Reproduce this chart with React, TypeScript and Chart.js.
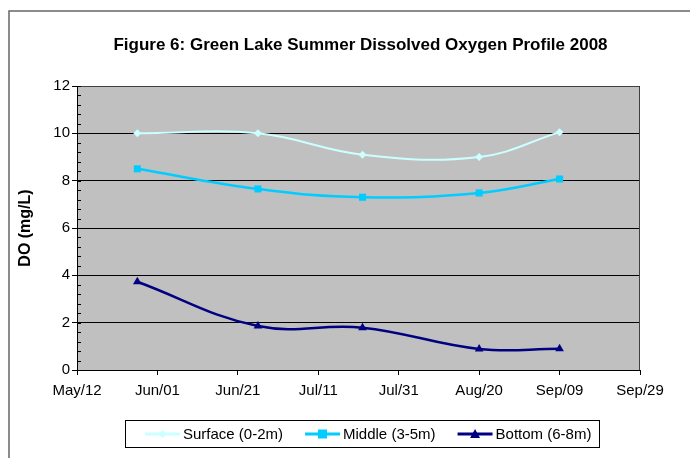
import React, { useEffect, useRef } from "react";
import { Chart, registerables } from "chart.js";

Chart.register(...registerables);

const chartTitle = "Figure 6: Green Lake Summer Dissolved Oxygen Profile 2008";
const yAxisTitle = "DO (mg/L)";
const startDate = "2008-05-12";
const sampleDates = ["2008-05-27", "2008-06-26", "2008-07-22", "2008-08-20", "2008-09-09"];
const xTickLabels = ["May/12", "Jun/01", "Jun/21", "Jul/11", "Jul/31", "Aug/20", "Sep/09", "Sep/29"];
const seriesNames = ["Surface (0-2m)", "Middle (3-5m)", "Bottom (6-8m)"];
const surfaceDO = [10.0, 10.0, 9.1, 9.0, 10.05];
const middleDO = [8.5, 7.65, 7.3, 7.48, 8.07];
const bottomDO = [3.73, 1.86, 1.79, 0.89, 0.9];

const FONT = "'Liberation Sans', Arial, sans-serif";
const DAY = 86400000;
const dayOffset = (d: string) => Math.round((Date.parse(d) - Date.parse(startDate)) / DAY);

const colors = ["#CCFFFF", "#00CCFF", "#000080"];
const pointStyles = ["rectRot", "rect", "triangle"];
const pointRadii = [4, 5, 5];
const lineWidths = [2, 2.5, 2.5];

const decorPlugin = {
  id: "decor",
  beforeDraw(chart: any) {
    const { ctx, chartArea: a } = chart;
    ctx.save();
    ctx.fillStyle = "#ffffff";
    ctx.fillRect(0, 0, chart.width, chart.height);
    ctx.strokeStyle = "#666666";
    ctx.lineWidth = 1.5;
    ctx.strokeRect(9, 11, chart.width + 20, chart.height + 20);
    ctx.fillStyle = "#C0C0C0";
    ctx.fillRect(a.left, a.top, a.right - a.left, a.bottom - a.top);
    ctx.restore();
  },
  afterDatasetsDraw(chart: any) {
    const { ctx, chartArea: a } = chart;
    const y = chart.scales.y;
    ctx.save();
    ctx.strokeStyle = "#404040";
    ctx.lineWidth = 1;
    ctx.beginPath();
    ctx.moveTo(a.left, a.top + 0.5);
    ctx.lineTo(a.right - 0.5, a.top + 0.5);
    ctx.lineTo(a.right - 0.5, a.bottom);
    ctx.stroke();
    ctx.strokeStyle = "#000000";
    ctx.beginPath();
    for (let v = 0; v <= 12.001; v += 0.4) {
      const py = Math.round(y.getPixelForValue(v)) + 0.5;
      ctx.moveTo(a.left, py);
      ctx.lineTo(a.left + 4, py);
    }
    ctx.stroke();
    ctx.restore();
  },
  afterDraw(chart: any) {
    const { ctx, chartArea: a } = chart;
    ctx.save();
    ctx.fillStyle = "#000000";
    ctx.font = `bold 17px ${FONT}`;
    ctx.textAlign = "center";
    ctx.textBaseline = "middle";
    ctx.fillText(chartTitle, (a.left + a.right) / 2 + 2, 45);
    ctx.font = `15px ${FONT}`;
    ctx.textAlign = "left";
    const lineLen = 35;
    const gapText = 3;
    const gapItem = 22;
    const widths = seriesNames.map((n) => ctx.measureText(n).width);
    const total = widths.reduce((s, w) => s + lineLen + gapText + w, 0) + gapItem * (seriesNames.length - 1);
    const boxW = Math.round(total + 28);
    const boxL = Math.round((a.left + a.right) / 2 + 3 - boxW / 2);
    let x = boxL + 20;
    const ly = 434;
    ctx.strokeStyle = "#000000";
    ctx.lineWidth = 1;
    ctx.strokeRect(boxL + 0.5, 420.5, boxW, 27);
    chart.data.datasets.forEach((ds: any, i: number) => {
      ctx.strokeStyle = colors[i];
      ctx.lineWidth = 3;
      ctx.beginPath();
      ctx.moveTo(x, ly);
      ctx.lineTo(x + lineLen, ly);
      ctx.stroke();
      ctx.fillStyle = colors[i];
      const mx = x + lineLen / 2;
      const r = pointRadii[i];
      ctx.beginPath();
      if (pointStyles[i] === "rectRot") {
        ctx.moveTo(mx, ly - r);
        ctx.lineTo(mx + r, ly);
        ctx.lineTo(mx, ly + r);
        ctx.lineTo(mx - r, ly);
      } else if (pointStyles[i] === "rect") {
        ctx.rect(mx - r + 0.5, ly - r + 0.5, 2 * r - 1, 2 * r - 1);
      } else {
        ctx.moveTo(mx, ly - r);
        ctx.lineTo(mx + r, ly + r - 1);
        ctx.lineTo(mx - r, ly + r - 1);
      }
      ctx.closePath();
      ctx.fill();
      ctx.fillStyle = "#000000";
      ctx.textBaseline = "middle";
      ctx.fillText(seriesNames[i], x + lineLen + gapText, ly + 1);
      x += lineLen + gapText + widths[i] + gapItem;
    });
    ctx.restore();
  },
};

export default function App() {
  const ref = useRef<HTMLCanvasElement | null>(null);
  useEffect(() => {
    if (!ref.current) return;
    const xs = sampleDates.map(dayOffset);
    const series = [surfaceDO, middleDO, bottomDO];
    const chart = new Chart(ref.current, {
      type: "line",
      data: {
        datasets: series.map((vals, i) => ({
          label: seriesNames[i],
          data: vals.map((v, j) => ({ x: xs[j], y: v })),
          borderColor: colors[i],
          backgroundColor: colors[i],
          borderWidth: lineWidths[i],
          tension: 0.4,
          pointStyle: pointStyles[i] as any,
          pointRadius: pointRadii[i],
          pointBorderWidth: 0,
          fill: false,
        })),
      },
      options: {
        responsive: false,
        animation: false,
        events: [],
        layout: { padding: { left: 16, top: 86, right: 50, bottom: 0 } },
        plugins: {
          legend: { display: false },
          title: { display: false },
          tooltip: { enabled: false },
        },
        scales: {
          x: {
            type: "linear",
            min: 0,
            max: 140,
            afterBuildTicks: (s: any) => {
              s.ticks = xTickLabels.map((_, i) => ({ value: i * 20 }));
            },
            afterFit: (s: any) => {
              s.height = 88;
            },
            ticks: {
              callback: (v: any) => xTickLabels[Math.round(Number(v) / 20)] ?? "",
              color: "#000000",
              font: { family: FONT, size: 15 },
              padding: 7,
              maxRotation: 0,
              autoSkip: false,
            },
            grid: {
              drawOnChartArea: false,
              drawTicks: true,
              tickLength: 5,
              color: "#000000",
            },
            border: { color: "#000000", width: 1 },
          },
          y: {
            min: 0,
            max: 12,
            afterBuildTicks: (s: any) => {
              s.ticks = [0, 2, 4, 6, 8, 10, 12].map((v) => ({ value: v }));
            },
            afterFit: (s: any) => {
              s.width = 77 - 16;
            },
            ticks: {
              color: "#000000",
              font: { family: FONT, size: 15 },
              padding: 2,
            },
            title: {
              display: true,
              text: yAxisTitle,
              color: "#000000",
              font: { family: FONT, size: 16, weight: "bold" },
              padding: { top: 0, bottom: 0 },
            },
            grid: {
              color: "#000000",
              lineWidth: 1,
              tickLength: 5,
            },
            border: { color: "#000000", width: 1 },
          },
        },
      },
      plugins: [decorPlugin],
    });
    return () => chart.destroy();
  }, []);
  return (
    <div style={{ position: "fixed", left: 0, top: 0, width: 690, height: 458 }}>
      <canvas ref={ref} width={690} height={458} style={{ display: "block", width: 690, height: 458 }} />
    </div>
  );
}
